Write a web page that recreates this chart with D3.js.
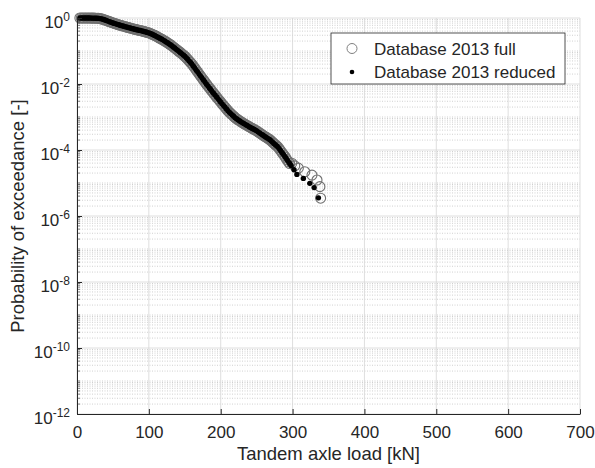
<!DOCTYPE html>
<html>
<head>
<meta charset="utf-8">
<script src="https://cdn.jsdelivr.net/npm/d3@7"></script>
<style>
  body { margin: 0; background: #fff; }
  text { font-family: Arial, "Liberation Sans", Helvetica, sans-serif; fill: #262626; }
</style>
</head>
<body>
<script>

// tick values
const xTicks = [0, 100, 200, 300, 400, 500, 600, 700];
const yTickExponents = [0, -2, -4, -6, -8, -10, -12];

// legend labels
const seriesNames = ['Database 2013 full', 'Database 2013 reduced'];

// main body of the curve (both databases lie on top of each other here)
// load in kN, log10 of the probability of exceedance
const bodyLoad = [
    4,   6,   8,  10,  12,  14,  16,  18,  20,  22,
   24,  26,  28,  30,  32,  34,  36,  38,  40,  42,
   44,  46,  48,  50,  52,  54,  56,  58,  60,  62,
   64,  66,  68,  70,  72,  74,  76,  78,  80,  82,
   84,  86,  88,  90,  92,  94,  96,  98, 100, 102,
  104, 106, 108, 110, 112, 114, 116, 118, 120, 122,
  124, 126, 128, 130, 132, 134, 136, 138, 140, 142,
  144, 146, 148, 150, 152, 154, 156, 158, 160, 162,
  164, 166, 168, 170, 172, 174, 176, 178, 180, 182,
  184, 186, 188, 190, 192, 194, 196, 198, 200, 202,
  204, 206, 208, 210, 212, 214, 216, 218, 220, 222,
  224, 226, 228, 230, 232, 234, 236, 238, 240, 242,
  244, 246, 248, 250, 252, 254, 256, 258, 260, 262,
  264, 266, 268, 270, 272, 274, 276, 278, 280, 282,
  284, 286, 288, 290, 292, 294, 296
];
const bodyLogP = [
   0.000,  0.000,  0.000,  0.000,  0.000, -0.001, -0.001, -0.002, -0.003, -0.004,
  -0.005, -0.006, -0.008, -0.010, -0.018, -0.026, -0.038, -0.054, -0.070, -0.086,
  -0.102, -0.118, -0.134, -0.150, -0.164, -0.178, -0.192, -0.206, -0.220, -0.232,
  -0.244, -0.256, -0.268, -0.280, -0.292, -0.304, -0.316, -0.328, -0.340, -0.350,
  -0.360, -0.370, -0.380, -0.390, -0.402, -0.414, -0.426, -0.438, -0.450, -0.468,
  -0.487, -0.507, -0.528, -0.550, -0.573, -0.597, -0.621, -0.645, -0.670, -0.697,
  -0.724, -0.752, -0.781, -0.810, -0.843, -0.877, -0.911, -0.945, -0.980, -1.015,
  -1.050, -1.086, -1.122, -1.160, -1.205, -1.252, -1.300, -1.350, -1.400, -1.460,
  -1.520, -1.580, -1.640, -1.700, -1.760, -1.820, -1.880, -1.940, -2.000, -2.056,
  -2.112, -2.168, -2.224, -2.280, -2.334, -2.388, -2.442, -2.496, -2.550, -2.602,
  -2.654, -2.706, -2.758, -2.810, -2.855, -2.897, -2.937, -2.978, -3.020, -3.052,
  -3.082, -3.112, -3.142, -3.170, -3.196, -3.222, -3.248, -3.274, -3.300, -3.324,
  -3.348, -3.372, -3.396, -3.420, -3.450, -3.480, -3.510, -3.540, -3.570, -3.598,
  -3.626, -3.654, -3.682, -3.720, -3.760, -3.800, -3.840, -3.880, -3.920, -3.980,
  -4.040, -4.100, -4.160, -4.220, -4.290, -4.350, -4.410
];

// tails, where the two databases split
const fullTailLoad = [299, 303, 308, 317, 327, 334, 338, 339];
const fullTailLogP = [-4.40, -4.48, -4.55, -4.66, -4.76, -4.91, -5.11, -5.46];
const reducedTailLoad = [298, 302, 306, 315, 324, 330, 336];
const reducedTailLogP = [-4.47, -4.60, -4.74, -4.86, -5.01, -5.14, -5.45];


function drawChart() {

  const DM = { width: 595, height: 468,
               left: 77, right: 580, top: 18, bottom: 414 };

  // build point tables
  const toPoints = (loads, logs) => loads.map((d, i) => ({ x: d, p: Math.pow(10, logs[i]) }));
  const fullData = toPoints(bodyLoad.concat(fullTailLoad), bodyLogP.concat(fullTailLogP));
  const reducedData = toPoints(bodyLoad.concat(reducedTailLoad), bodyLogP.concat(reducedTailLogP));
  const yTicks = yTickExponents.map(e => Math.pow(10, e));

  // append SVG
  const SVG = d3.select('body')
                .append('svg')
                .attr('width', DM.width)
                .attr('height', DM.height);

  // x- and y-scales
  const xScale = d3.scaleLinear()
                   .domain([0, 700])
                   .range([DM.left, DM.right]);
  const yScale = d3.scaleLog()
                   .domain([1e-12, 1])
                   .range([DM.bottom, DM.top]);

  // minor y values from the log scale itself
  const isMajor = v => {
    const e = Math.log10(v);
    return Math.abs(e - Math.round(e)) < 1e-6 && Math.round(e) % 2 === 0;
  };
  const yMinor = yScale.ticks(20).filter(v => !isMajor(v));

  // grid
  const grid = SVG.append('g').attr('class', 'grid');
  grid.selectAll('.yminor')
      .data(yMinor)
      .enter()
      .append('line')
      .attr('x1', DM.left)
      .attr('x2', DM.right)
      .attr('y1', d => yScale(d))
      .attr('y2', d => yScale(d))
      .attr('stroke', '#c4c4c4')
      .attr('stroke-width', 0.8)
      .attr('stroke-dasharray', '1,1.5');
  grid.selectAll('.ymajor')
      .data(yTicks)
      .enter()
      .append('line')
      .attr('x1', DM.left)
      .attr('x2', DM.right)
      .attr('y1', d => yScale(d))
      .attr('y2', d => yScale(d))
      .attr('stroke', '#d6d6d6')
      .attr('stroke-width', 0.8);
  grid.selectAll('.xmajor')
      .data(xTicks)
      .enter()
      .append('line')
      .attr('x1', d => xScale(d))
      .attr('x2', d => xScale(d))
      .attr('y1', DM.top)
      .attr('y2', DM.bottom)
      .attr('stroke', '#d6d6d6')
      .attr('stroke-width', 0.8);

  // full database: open gray circles
  SVG.append('g')
     .selectAll('circle')
     .data(fullData)
     .enter()
     .append('circle')
     .attr('cx', d => xScale(d.x))
     .attr('cy', d => yScale(d.p))
     .attr('r', 5)
     .attr('fill', 'none')
     .attr('stroke', '#707070')
     .attr('stroke-width', 1.1);

  // reduced database: black dots
  SVG.append('g')
     .selectAll('circle')
     .data(reducedData)
     .enter()
     .append('circle')
     .attr('cx', d => xScale(d.x))
     .attr('cy', d => yScale(d.p))
     .attr('r', 2.7)
     .attr('fill', '#000');

  // x- and y-axis
  const xAxis = d3.axisBottom(xScale)
                  .tickValues(xTicks)
                  .tickSizeInner(-5)
                  .tickSizeOuter(0)
                  .tickPadding(12);
  const yAxis = d3.axisLeft(yScale)
                  .tickValues(yTicks)
                  .tickSizeInner(-5)
                  .tickSizeOuter(0)
                  .tickPadding(7)
                  .tickFormat(() => '');

  // add x-axis
  SVG.append('g')
     .attr('transform', `translate(0, ${DM.bottom})`)
     .call(xAxis)
     .attr('font-size', 17)
     .attr('font-family', null)
     .attr('color', '#262626');

  // add y-axis
  const yG = SVG.append('g')
                .attr('transform', `translate(${DM.left}, 0)`)
                .call(yAxis)
                .attr('font-size', 17)
                .attr('font-family', null)
                .attr('color', '#262626');

  yG.selectAll('.tick text')
    .attr('dy', '0.53em')
    .each(function(d) {
      const t = d3.select(this);
      t.append('tspan').text('10');
      t.append('tspan')
       .attr('dy', -7)
       .attr('font-size', 12)
       .text(Math.round(Math.log10(d)));
    });

  // minor ticks on the y-axis
  yG.selectAll('.minortick')
    .data(yMinor)
    .enter()
    .append('line')
    .attr('x1', 0)
    .attr('x2', 3)
    .attr('y1', d => yScale(d))
    .attr('y2', d => yScale(d))
    .attr('stroke', '#262626')
    .attr('stroke-width', 0.6);

  // axis labels
  SVG.append('text')
     .attr('x', (DM.left + DM.right) / 2)
     .attr('y', 460)
     .attr('text-anchor', 'middle')
     .attr('font-size', 18.5)
     .text('Tandem axle load [kN]');

  SVG.append('text')
     .attr('transform', `translate(23.5, ${(DM.top + DM.bottom) / 2}) rotate(-90)`)
     .attr('text-anchor', 'middle')
     .attr('font-size', 18.5)
     .text('Probability of exceedance [-]');

  // legend
  const LG = SVG.append('g').attr('transform', 'translate(331, 33)');
  LG.append('rect')
    .attr('width', 234)
    .attr('height', 51)
    .attr('fill', '#fff')
    .attr('stroke', '#262626')
    .attr('stroke-width', 0.8);
  LG.append('circle')
    .attr('cx', 21)
    .attr('cy', 15.5)
    .attr('r', 5)
    .attr('fill', 'none')
    .attr('stroke', '#808080');
  LG.append('circle')
    .attr('cx', 21)
    .attr('cy', 39)
    .attr('r', 2.3)
    .attr('fill', '#000');
  LG.selectAll('.lgtext')
    .data(seriesNames)
    .enter()
    .append('text')
    .attr('x', 43)
    .attr('y', (d, i) => 21.5 + i * 23.3)
    .attr('font-size', 17)
    .text(d => d);
}

drawChart();
</script>
</body>
</html>
